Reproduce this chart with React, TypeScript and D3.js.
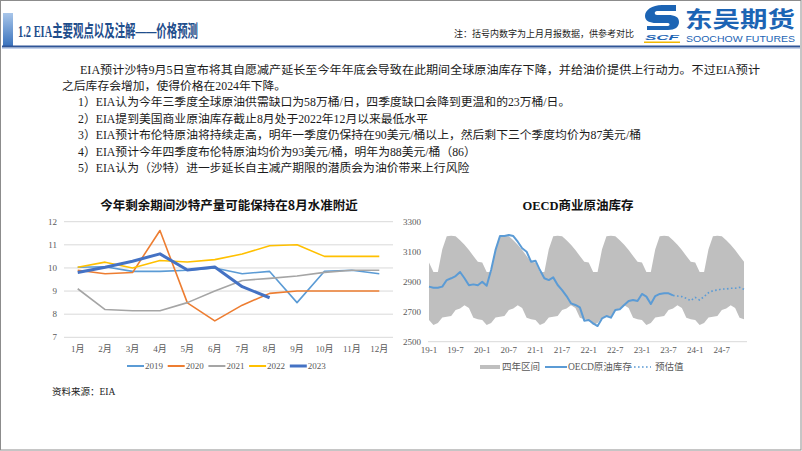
import React from 'react';
import * as d3 from 'd3';

// ---------- data ----------
const months = ['1月', '2月', '3月', '4月', '5月', '6月', '7月', '8月', '9月', '10月', '11月', '12月'];
const yTicksLeft = [7, 8, 9, 10, 11, 12];
const series2019 = [10.03, 10.05, 9.85, 9.85, 9.9, 10.0, 9.75, 9.85, 8.5, 9.86, 9.9, 9.75];
const series2020 = [9.9, 9.75, 9.8, 11.62, 8.49, 7.71, 8.39, 8.9, 9.0, 9.0, 9.0, 9.0];
const series2021 = [9.1, 8.2, 8.15, 8.15, 8.5, 9.0, 9.46, 9.55, 9.65, 9.81, 9.9, 9.9];
const series2022 = [10.03, 10.25, 10.0, 10.32, 10.26, 10.36, 10.6, 10.96, 11.0, 10.5, 10.5, 10.5];
const series2023 = [9.8, 10.03, 10.29, 10.61, 9.91, 10.04, 9.19, 8.71];
const seriesNames = ['2019', '2020', '2021', '2022', '2023'];

const oecdTickLabels = ['19-1', '19-7', '20-1', '20-7', '21-1', '21-7', '22-1', '22-7', '23-1', '23-7', '24-1', '24-7'];
const yTicksRight = [2500, 2700, 2900, 3100, 3300];
// four-year range, seasonal by calendar month (Jan..Dec), same band each year
const bandUpper = [3030, 2967, 2967, 3120, 3206, 3210, 3206, 3180, 3150, 3115, 3075, 3036];
const bandLower = [2645, 2612, 2625, 2662, 2667, 2672, 2712, 2723, 2745, 2725, 2660, 2650];
const bandMonths = 72; // 19-1 .. 24-12
// OECD commercial crude stocks, 19-1 .. 23-8
const oecdActual = [
  2869, 2862, 2862, 2869, 2913, 2925, 2940, 2967, 2925, 2878, 2884, 2878,
  2902, 2875, 2980, 3115, 3208, 3208, 3215, 3208, 3170, 3126, 3103, 3036,
  3043, 2980, 2925, 2913, 2931, 2880, 2846, 2806, 2757, 2746, 2730, 2641,
  2645, 2623, 2605, 2656, 2672, 2661, 2712, 2717, 2746, 2773, 2779, 2773,
  2820, 2802, 2753, 2806, 2820, 2824, 2824, 2810,
];
// forecast, 23-8 .. 24-12
const oecdForecast = [2810, 2806, 2802, 2790, 2775, 2797, 2779, 2802, 2828, 2842, 2846, 2853, 2853, 2858, 2858, 2864, 2851];

const paraLine1 = 'EIA预计沙特9月5日宣布将其自愿减产延长至今年年底会导致在此期间全球原油库存下降，并给油价提供上行动力。不过EIA预计';
const paraLine2 = '之后库存会增加，使得价格在2024年下降。';
const items = [
  '1）EIA认为今年三季度全球原油供需缺口为58万桶/日，四季度缺口会降到更温和的23万桶/日。',
  '2）EIA提到美国商业原油库存截止8月处于2022年12月以来最低水平',
  '3）EIA预计布伦特原油将持续走高，明年一季度仍保持在90美元/桶以上，然后剩下三个季度均价为87美元/桶',
  '4）EIA预计今年四季度布伦特原油均价为93美元/桶，明年为88美元/桶（86）',
  '5）EIA认为（沙特）进一步延长自主减产期限的潜质会为油价带来上行风险',
];

const SERIF = '"Liberation Serif", "Noto Sans CJK SC", serif';
const SANS = '"Noto Sans CJK SC", "Liberation Sans", sans-serif';
const colors = ['#5b9bd5', '#ed7d31', '#a5a5a5', '#ffc000', '#4472c4'];
const widths = [1.6, 1.6, 1.6, 1.6, 3];

export default function App() {
  // ---- left chart scales ----
  const xL = d3.scalePoint<string>().domain(months).range([64, 393]).padding(0.5);
  const yL = d3.scaleLinear().domain([7, 12]).range([337.3, 221.7]);
  const allSeries = [series2019, series2020, series2021, series2022, series2023];
  const lineL = d3
    .line<number>()
    .x((_, i) => xL(months[i]) as number)
    .y((d) => yL(d));

  // ---- right chart scales ----
  const xR = d3.scaleLinear().domain([0, bandMonths - 1]).range([429, 744]);
  const yR = d3.scaleLinear().domain([2500, 3300]).range([341.7, 222.3]);
  const bandIdx = d3.range(bandMonths);
  const area = d3
    .area<number>()
    .x((m) => xR(m))
    .y0((m) => yR(bandLower[m % 12]))
    .y1((m) => yR(bandUpper[m % 12]));
  const lineActual = d3
    .line<number>()
    .x((_, i) => xR(i))
    .y((d) => yR(d));
  const startF = oecdActual.length - 1;
  const lineForecast = d3
    .line<number>()
    .x((_, i) => xR(startF + i))
    .y((d) => yR(d));

  return (
    <svg
      width={802}
      height={451}
      style={{ position: 'absolute', left: 0, top: 0, background: '#fff' }}
    >
      <defs>
        <linearGradient id="acc" x1="0" y1="0" x2="0" y2="1">
          <stop offset="0" stopColor="#a9c6ea" />
          <stop offset="1" stopColor="#3a73bd" />
        </linearGradient>
      </defs>
      {/* slide frame */}
      <rect x={0.5} y={0.5} width={800.5} height={449.5} fill="#fff" stroke="#8c8c8c" strokeWidth={1} />

      {/* header */}
      <rect x={3} y={13} width={10} height={33} fill="url(#acc)" />
      <text x={18} y={37} fontFamily={SERIF} fontWeight="bold" fontSize={17} fill="#1f4e8c" textLength={180} lengthAdjust="spacingAndGlyphs">
        1.2 EIA主要观点以及注解——价格预测
      </text>
      <text x={454} y={37} fontFamily={SANS} fontSize={9} fill="#222">
        注：括号内数字为上月月报数据，供参考对比
      </text>
      <line x1={2} x2={800} y1={46.5} y2={46.5} stroke="#2f5597" strokeWidth={2} />
      <line x1={2} x2={800} y1={48.5} y2={48.5} stroke="#b4c7e7" strokeWidth={0.8} />

      {/* logo */}
      <g>
        <path d="M662,5 C652,5 645,10 645,16 C645,21 650,23 656,23 L668,23 C670,23 670,26 668,26 L647,26 L647,30 L668,30 C675,30 679,27 679,22 C679,17 675,15 668,15 L657,15 C654,15 654,11 657,11 L676,11 L676,5 Z" fill="#1c64b4" />
        <text x={645} y={40} fontFamily='"Liberation Sans", sans-serif' fontStyle="italic" fontWeight="bold" fontSize={8} fill="#1c64b4" textLength={34} lengthAdjust="spacingAndGlyphs">SCF</text>
        <rect x={644} y={41.5} width={36} height={1.5} fill="#f2b800" />
        <text x={685} y={27} fontFamily={SANS} fontWeight="bold" fontSize={22} fill="#1c64b4" textLength={110} lengthAdjust="spacingAndGlyphs">东吴期货</text>
        <text x={686} y={42} fontFamily='"Liberation Sans", sans-serif' fontSize={9} fill="#1c64b4" textLength={109} lengthAdjust="spacingAndGlyphs">SOOCHOW FUTURES</text>
      </g>

      {/* paragraph */}
      <g fontFamily={SERIF} fontSize={11.8} fill="#1a1a1a">
        <text x={80} y={74} textLength={680} lengthAdjust="spacingAndGlyphs">{paraLine1}</text>
        <text x={62} y={90}>{paraLine2}</text>
        {items.map((t, i) => (
          <text key={i} x={78} y={106 + i * 16.5}>{t}</text>
        ))}
      </g>

      {/* ---------- left chart ---------- */}
      <text x={229} y={209.5} textAnchor="middle" fontFamily={SANS} fontWeight="bold" fontSize={12.5} fill="#111">
        今年剩余期间沙特产量可能保持在8月水准附近
      </text>
      {yTicksLeft.map((t) => (
        <g key={t}>
          <line x1={64} x2={393} y1={yL(t)} y2={yL(t)} stroke="#d9d9d9" strokeWidth={1} />
          <text x={57} y={yL(t) + 3} textAnchor="end" fontFamily={SERIF} fontSize={9} fill="#595959">{t}</text>
        </g>
      ))}
      {months.map((m) => (
        <text key={m} x={xL(m)} y={352} textAnchor="middle" fontFamily={SERIF} fontSize={9} fill="#595959">{m}</text>
      ))}
      {allSeries.map((s, i) => (
        <path key={i} d={lineL(s) || ''} fill="none" stroke={colors[i]} strokeWidth={widths[i]} strokeLinejoin="round" />
      ))}
      {seriesNames.map((n, i) => {
        const x0 = 127 + i * 40.7;
        return (
          <g key={n}>
            <line x1={x0} x2={x0 + 17} y1={366} y2={366} stroke={colors[i]} strokeWidth={i === 4 ? 3 : 2} />
            <text x={x0 + 18} y={369} fontFamily={SERIF} fontSize={9} fill="#595959">{n}</text>
          </g>
        );
      })}
      <text x={52} y={395} fontFamily={SERIF} fontSize={9.5} fill="#222">资料来源：EIA</text>

      {/* ---------- right chart ---------- */}
      <text x={578} y={209.5} textAnchor="middle" fontFamily={SERIF} fontWeight="bold" fontSize={12.5} fill="#111">
        OECD商业原油库存
      </text>
      <path d={area(bandIdx) || ''} fill="#bfbfbf" />
      <line x1={428} x2={747} y1={yR(2500)} y2={yR(2500)} stroke="#d9d9d9" strokeWidth={1} />
      {yTicksRight.map((t) => (
        <text key={t} x={421} y={yR(t) + 3} textAnchor="end" fontFamily={SERIF} fontSize={9} fill="#595959">{t}</text>
      ))}
      {oecdTickLabels.map((l, i) => (
        <text key={l} x={xR(i * 6)} y={353} textAnchor="middle" fontFamily={SERIF} fontSize={9} fill="#595959">{l}</text>
      ))}
      <path d={lineActual(oecdActual) || ''} fill="none" stroke="#5b9bd5" strokeWidth={2} strokeLinejoin="round" />
      <path d={lineForecast(oecdForecast) || ''} fill="none" stroke="#5b9bd5" strokeWidth={1.6} strokeDasharray="1.6,2.4" />
      {/* legend */}
      <rect x={480} y={365} width={20} height={4} fill="#bfbfbf" />
      <text x={502} y={370} fontFamily={SANS} fontSize={9.5} fill="#595959">四年区间</text>
      <line x1={545} x2={567} y1={367} y2={367} stroke="#5b9bd5" strokeWidth={2} />
      <text x={568} y={370} fontFamily={SERIF} fontSize={9.5} fill="#595959">OECD原油库存</text>
      <line x1={630} x2={651} y1={367} y2={367} stroke="#5b9bd5" strokeWidth={1.6} strokeDasharray="1.6,2.4" />
      <text x={655} y={370} fontFamily={SANS} fontSize={9.5} fill="#595959">预估值</text>
    </svg>
  );
}
